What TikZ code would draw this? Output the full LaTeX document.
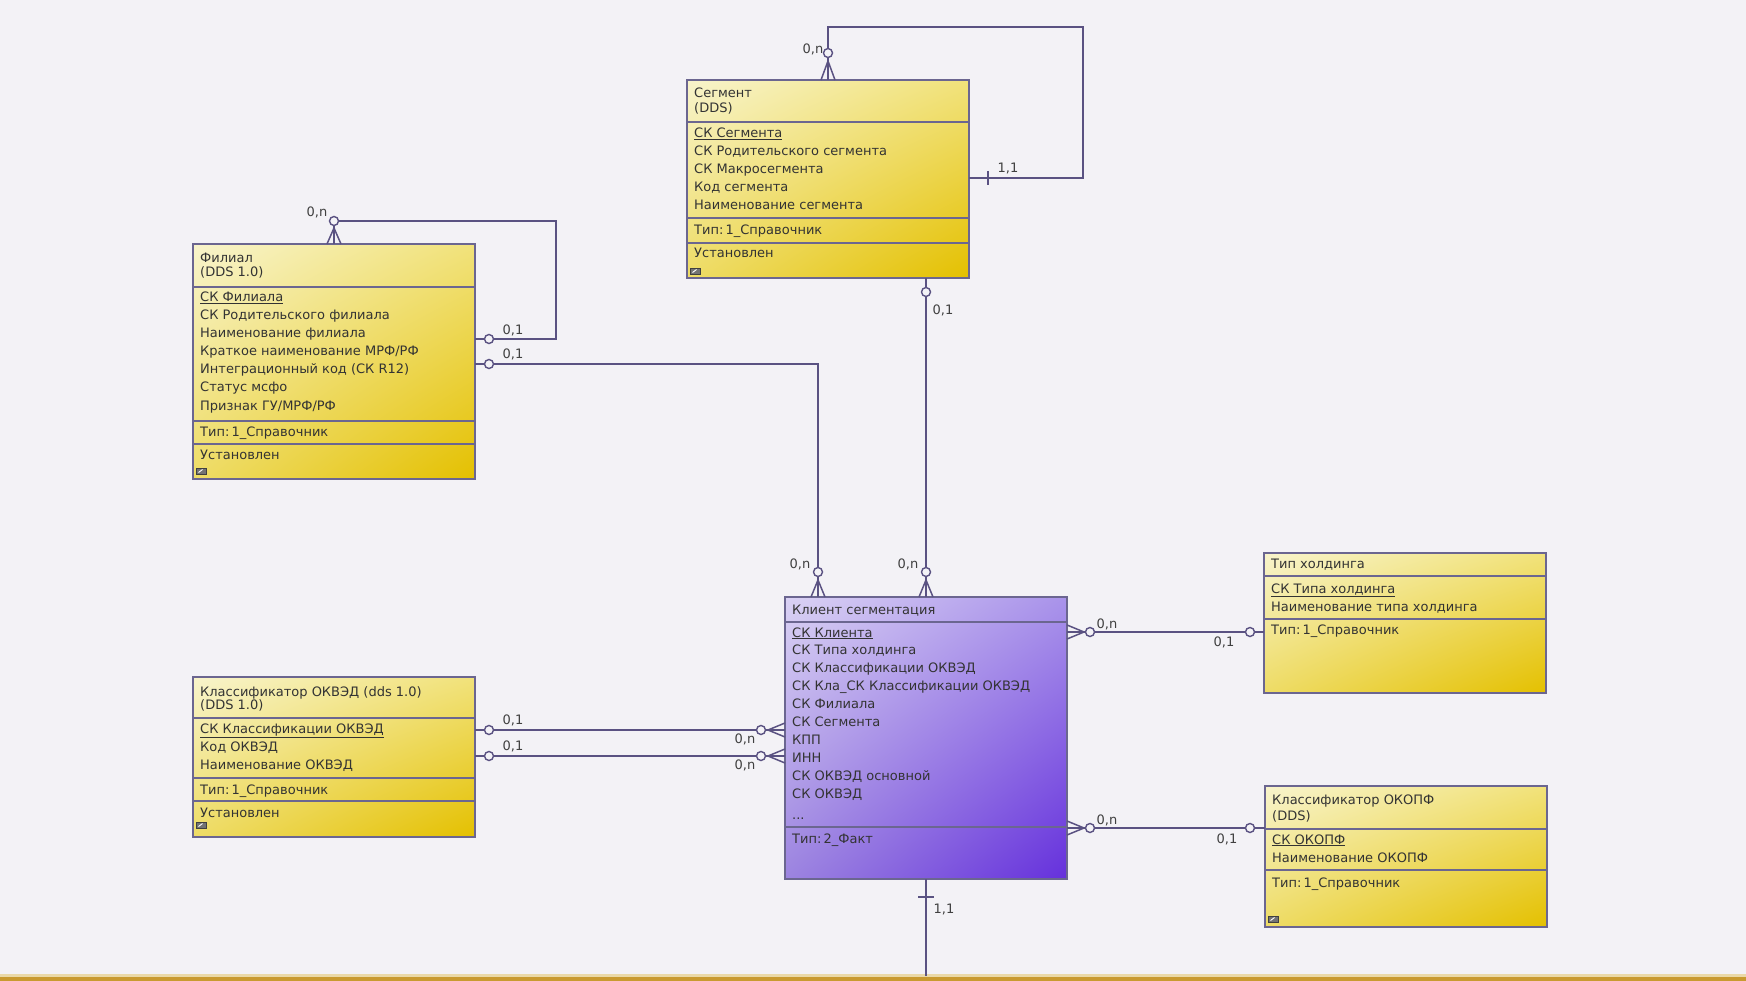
\documentclass[tikz,border=0pt]{standalone}
\usepackage{fontspec}
\setmainfont{DejaVu Sans}
\usetikzlibrary{shadings,calc}
\definecolor{bg}{HTML}{F3F2F6}
\definecolor{lnc}{HTML}{5A5282}
\definecolor{bordc}{HTML}{6B6690}
\definecolor{txtc}{HTML}{333333}
\definecolor{yUL}{HTML}{F8F4CC}
\definecolor{yUR}{HTML}{F1E27A}
\definecolor{yLL}{HTML}{EEDC66}
\definecolor{yLR}{HTML}{E4C000}
\definecolor{pUL}{HTML}{DAD2F4}
\definecolor{pUR}{HTML}{A993EA}
\definecolor{pLL}{HTML}{9C84E0}
\definecolor{pLR}{HTML}{6530DC}
\definecolor{goldbar}{HTML}{C99A30}
\definecolor{goldlite}{HTML}{EAD9A8}
\tikzset{
  ent/.style={draw=bordc, line width=1.8pt, inner sep=0pt, outer sep=0pt, anchor=north west},
  yent/.style={ent, upper left=yUL, upper right=yUR, lower left=yLL, lower right=yLR},
  pent/.style={ent, upper left=pUL, upper right=pUR, lower left=pLL, lower right=pLR},
  sepline/.style={draw=bordc, line width=1.5pt},
  txt/.style={anchor=base west, inner sep=0pt, font=\fontsize{13}{15}\selectfont, text=txtc},
  card/.style={anchor=center, inner sep=0pt, font=\fontsize{13}{15}\selectfont, text=black!75},
  conn/.style={draw=lnc, line width=1.5pt},
  ring/.style={circle, draw=lnc, line width=1.4pt, fill=bg, minimum size=9pt, inner sep=0pt},
  icon/.style={draw=black!75, fill=black!55, line width=0.8pt},
}
\begin{document}
\begin{tikzpicture}[x=1pt, y=-1pt]
\fill[bg] (0,0) rectangle (1746,981);
\useasboundingbox (0,0) rectangle (1746,981);
\fill[goldlite] (0,974) rectangle (1746,977);
\fill[goldbar] (0,976.5) rectangle (1746,981);

% ---------- entities ----------
\node[yent, minimum width=282pt, minimum height=198pt] (seg) at (687,80) {};
\node[yent, minimum width=282pt, minimum height=235pt] (fil) at (193,244) {};
\node[yent, minimum width=282pt, minimum height=160pt] (okv) at (193,677) {};
\node[pent, minimum width=282pt, minimum height=282pt] (cli) at (785,597) {};
\node[yent, minimum width=282pt, minimum height=140pt] (hol) at (1264,553) {};
\node[yent, minimum width=282pt, minimum height=141pt] (okp) at (1265,786) {};

% separators
\foreach \y in {122,218,243} \draw[sepline] (seg.west |- 0,\y) -- (seg.east |- 0,\y);
\foreach \y in {287,421,444} \draw[sepline] (fil.west |- 0,\y) -- (fil.east |- 0,\y);
\foreach \y in {718,778,801} \draw[sepline] (okv.west |- 0,\y) -- (okv.east |- 0,\y);
\foreach \y in {622,827} \draw[sepline] (cli.west |- 0,\y) -- (cli.east |- 0,\y);
\foreach \y in {576,619} \draw[sepline] (hol.west |- 0,\y) -- (hol.east |- 0,\y);
\foreach \y in {829,870} \draw[sepline] (okp.west |- 0,\y) -- (okp.east |- 0,\y);

% small icons
\foreach \x/\y in {690/268, 196/468, 196/822, 1268/916} {
  \draw[icon] (\x,\y) rectangle +(10,6);
  \draw[white, line width=0.9pt] (\x+2.5,\y+4.5) -- (\x+6.5,\y+1.5);
}

% ---------- texts: Сегмент ----------
\node[txt] (seg-h1) at (694,98) {Сегмент};
\node[txt] (seg-h2) at (694,113) {(DDS)};
\node[txt] (seg-a0) at (694,138) {\underline{СК Сегмента}};
\foreach \t [count=\i] in {СК Родительского сегмента, СК Макросегмента, Код сегмента, Наименование сегмента}
  \node[txt] (seg-a\i) at (694,{138+17.8*\i}) {\t};
\node[txt] (seg-k) at (694,235) {Тип:\,1\_Справочник};
\node[txt] (seg-s) at (694,258) {Установлен};

% ---------- Филиал ----------
\node[txt] (fil-h1) at (200,263) {Филиал};
\node[txt] (fil-h2) at (200,277) {(DDS 1.0)};
\node[txt] (fil-a0) at (200,302) {\underline{СК Филиала}};
\foreach \t [count=\i] in {СК Родительского филиала, Наименование филиала, Краткое наименование МРФ/РФ, Интеграционный код (СК R12), Статус мсфо, Признак ГУ/МРФ/РФ}
  \node[txt] (fil-a\i) at (200,{302+18*\i}) {\t};
\node[txt] (fil-k) at (200,436) {Тип:\,1\_Справочник};
\node[txt] (fil-s) at (200,460) {Установлен};

% ---------- Классификатор ОКВЭД ----------
\node[txt] (okv-h1) at (200,696) {Классификатор ОКВЭД (dds 1.0)};
\node[txt] (okv-h2) at (200,709) {(DDS 1.0)};
\node[txt] (okv-a0) at (200,733) {\underline{СК Классификации ОКВЭД}};
\node[txt] (okv-a1) at (200,751) {Код ОКВЭД};
\node[txt] (okv-a2) at (200,769) {Наименование ОКВЭД};
\node[txt] (okv-k) at (200,794) {Тип:\,1\_Справочник};
\node[txt] (okv-s) at (200,817) {Установлен};

% ---------- Клиент сегментация ----------
\node[txt] (cli-h1) at (792,614) {Клиент сегментация};
\node[txt] (cli-a0) at (792,637) {\underline{СК Клиента}};
\foreach \t [count=\i] in {СК Типа холдинга, СК Классификации ОКВЭД, СК Кла\_СК Классификации ОКВЭД, СК Филиала, СК Сегмента, КПП, ИНН, СК ОКВЭД основной, СК ОКВЭД}
  \node[txt] (cli-a\i) at (792,{637+17.9*\i}) {\t};
\node[txt] (cli-dots) at (792,819) {...};
\node[txt] (cli-k) at (792,843) {Тип:\,2\_Факт};

% ---------- Тип холдинга ----------
\node[txt] (hol-h1) at (1271,568) {Тип холдинга};
\node[txt] (hol-a0) at (1271,593) {\underline{СК Типа холдинга}};
\node[txt] (hol-a1) at (1271,611) {Наименование типа холдинга};
\node[txt] (hol-k) at (1271,634) {Тип:\,1\_Справочник};

% ---------- Классификатор ОКОПФ ----------
\node[txt] (okp-h1) at (1272,804) {Классификатор ОКОПФ};
\node[txt] (okp-h2) at (1272,820) {(DDS)};
\node[txt] (okp-a0) at (1272,844) {\underline{СК ОКОПФ}};
\node[txt] (okp-a1) at (1272,862) {Наименование ОКОПФ};
\node[txt] (okp-k) at (1272,887) {Тип:\,1\_Справочник};

% ---------- rings ----------
\node[ring] (rA) at (828,53) {};
\node[ring] (rB1) at (334,221) {};
\node[ring] (rB2) at (489,339) {};
\node[ring] (rC1) at (489,364) {};
\node[ring] (rC2) at (818,572) {};
\node[ring] (rD1) at (926,292) {};
\node[ring] (rD2) at (926,572) {};
\node[ring] (rE1) at (1090,632) {};
\node[ring] (rE2) at (1250,632) {};
\node[ring] (rF1) at (1090,828) {};
\node[ring] (rF2) at (1250,828) {};
\node[ring] (rG1) at (489,730) {};
\node[ring] (rG2) at (761,730) {};
\node[ring] (rH1) at (489,756) {};
\node[ring] (rH2) at (761,756) {};

% ---------- attachment coordinates ----------
\coordinate (aSegTop) at (828,80);
\coordinate (aSegR) at (969,178);
\coordinate (kA) at (1083,27);
\coordinate (aFilTop) at (334,244);
\coordinate (kB) at (556,221);
\coordinate (aFilR1) at (475,339);
\coordinate (aFilR2) at (475,364);
\coordinate (aCliTopL) at (818,597);
\coordinate (aSegBot) at (926,278);
\coordinate (aCliTopR) at (926,597);
\coordinate (aCliR1) at (1067,632);
\coordinate (aHolL) at (1264,632);
\coordinate (aCliR2) at (1067,828);
\coordinate (aOkpL) at (1265,828);
\coordinate (aOkvR1) at (475,730);
\coordinate (aOkvR2) at (475,756);
\coordinate (aCliL1) at (785,730);
\coordinate (aCliL2) at (785,756);
\coordinate (aCliBot) at (926,879);
\coordinate (aOut) at (926,976);

% ---------- connectors ----------
% Сегмент self relation
\draw[conn] (aSegTop) -- (rA.south);
\draw[conn] (rA.north) |- (kA) |- (aSegR);
\draw[conn] ($(aSegTop)+(-7,0)$) -- ($(aSegTop)+(0,-19)$) -- ($(aSegTop)+(7,0)$);
\draw[conn] ($(aSegR)+(19,-7)$) -- ($(aSegR)+(19,7)$);
\node[card] (lA1) at (813,49) {0,n};
\node[card] (lA2) at (1008,169) {1,1};

% Филиал self relation
\draw[conn] (aFilTop) -- (rB1.south);
\draw[conn] (rB1.east) -- (kB) |- (rB2.east);
\draw[conn] (rB2.west) -- (aFilR1);
\draw[conn] ($(aFilTop)+(-7,0)$) -- ($(aFilTop)+(0,-16)$) -- ($(aFilTop)+(7,0)$);
\node[card] (lB1) at (317,212) {0,n};
\node[card] (lB2) at (513,330) {0,1};

% Филиал -> Клиент
\draw[conn] (aFilR2) -- (rC1.west);
\draw[conn] (rC1.east) -| (rC2.north);
\draw[conn] (rC2.south) -- (aCliTopL);
\draw[conn] ($(aCliTopL)+(-7,0)$) -- ($(aCliTopL)+(0,-17)$) -- ($(aCliTopL)+(7,0)$);
\node[card] (lC1) at (513,354) {0,1};
\node[card] (lC2) at (800,564) {0,n};

% Сегмент -> Клиент
\draw[conn] (aSegBot) -- (rD1.north);
\draw[conn] (rD1.south) -- (rD2.north);
\draw[conn] (rD2.south) -- (aCliTopR);
\draw[conn] ($(aCliTopR)+(-7,0)$) -- ($(aCliTopR)+(0,-17)$) -- ($(aCliTopR)+(7,0)$);
\node[card] (lD1) at (943,310) {0,1};
\node[card] (lD2) at (908,564) {0,n};

% Клиент -> Тип холдинга
\draw[conn] (aCliR1) -- (rE1.west);
\draw[conn] (rE1.east) -- (rE2.west);
\draw[conn] (rE2.east) -- (aHolL);
\draw[conn] ($(aCliR1)+(0,-7)$) -- ($(aCliR1)+(17,0)$) -- ($(aCliR1)+(0,7)$);
\node[card] (lE1) at (1107,624) {0,n};
\node[card] (lE2) at (1224,642) {0,1};

% Клиент -> ОКОПФ
\draw[conn] (aCliR2) -- (rF1.west);
\draw[conn] (rF1.east) -- (rF2.west);
\draw[conn] (rF2.east) -- (aOkpL);
\draw[conn] ($(aCliR2)+(0,-7)$) -- ($(aCliR2)+(17,0)$) -- ($(aCliR2)+(0,7)$);
\node[card] (lF1) at (1107,820) {0,n};
\node[card] (lF2) at (1227,839) {0,1};

% ОКВЭД -> Клиент (two relations)
\draw[conn] (aOkvR1) -- (rG1.west);
\draw[conn] (rG1.east) -- (rG2.west);
\draw[conn] (rG2.east) -- (aCliL1);
\draw[conn] ($(aCliL1)+(0,-7)$) -- ($(aCliL1)+(-17,0)$) -- ($(aCliL1)+(0,7)$);
\node[card] (lG1) at (513,720) {0,1};
\node[card] (lG2) at (745,739) {0,n};
\draw[conn] (aOkvR2) -- (rH1.west);
\draw[conn] (rH1.east) -- (rH2.west);
\draw[conn] (rH2.east) -- (aCliL2);
\draw[conn] ($(aCliL2)+(0,-7)$) -- ($(aCliL2)+(-17,0)$) -- ($(aCliL2)+(0,7)$);
\node[card] (lH1) at (513,746) {0,1};
\node[card] (lH2) at (745,765) {0,n};

% Клиент -> (вниз)
\draw[conn] (aCliBot) -- (aOut);
\draw[conn] ($(aCliBot)+(-8,18)$) -- ($(aCliBot)+(8,18)$);
\node[card] (lI1) at (944,910) {1,1};
\end{tikzpicture}
\end{document}
